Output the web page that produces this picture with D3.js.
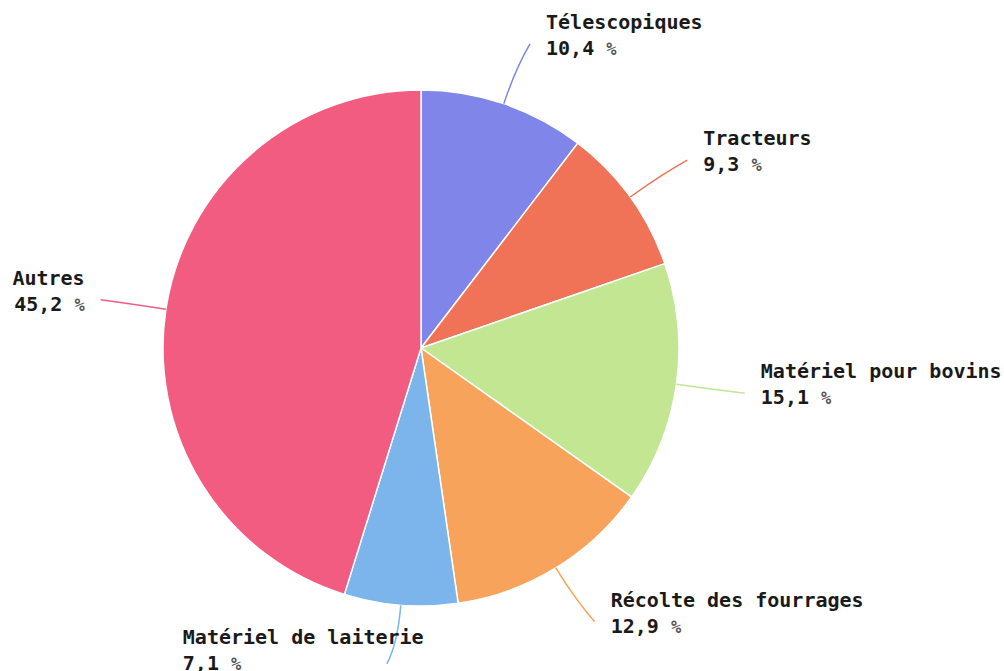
<!DOCTYPE html>
<html>
<head>
<meta charset="utf-8">
<script src="https://cdn.jsdelivr.net/npm/d3@7"></script>
<style>
  html, body { margin: 0; padding: 0; background: #fff; }
  svg { display: block; }
  .lbl { font-family: "DejaVu Sans Mono", monospace; font-weight: bold; font-size: 20px; fill: #1a1a1a; }
  .pct { font-size: 17px; fill: #555; }
</style>
</head>
<body>
<div id="chart"></div>
<script>
// data, clockwise from 12 o'clock
const categories = ["Télescopiques", "Tracteurs", "Matériel pour bovins", "Récolte des fourrages", "Matériel de laiterie", "Autres"];
const values = [10.4, 9.3, 15.1, 12.9, 7.1, 45.2];
const colors = ["#8085e9", "#f07257", "#c2e692", "#f7a35c", "#7cb5ec", "#f15c80"];

const width = 1004, height = 671;
const cx = 421, cy = 348, radius = 258;

const svg = d3.select("#chart").append("svg")
    .attr("width", width)
    .attr("height", height);

const pie = d3.pie().sort(null).value(d => d.v);
const arcs = pie(categories.map((c, i) => ({ c: c, v: values[i], col: colors[i] })));
const arc = d3.arc().innerRadius(0).outerRadius(radius);

const g = svg.append("g").attr("transform", `translate(${cx},${cy})`);

g.selectAll("path.slice")
    .data(arcs)
    .enter().append("path")
    .attr("class", "slice")
    .attr("d", arc)
    .style("fill", d => d.data.col)
    .style("stroke", "#fff")
    .style("stroke-width", 1.5);

// point on a circle for an angle measured clockwise from top
const pt = (a, r) => [Math.sin(a) * r, -Math.cos(a) * r];
const fmt = v => d3.format(".1f")(v).replace(".", ",");

arcs.forEach((d, i) => {
    const mid = (d.startAngle + d.endAngle) / 2;
    const p0 = pt(mid, radius);
    const p1 = pt(mid, 296);
    const p2 = pt(mid, 321);
    const right = p2[0] >= 0;
    const below = !right && Math.abs(p2[0]) < 60;
    // connector bends a little toward its label
    const bend = below ? -9 : (right ? 6 : -3);
    g.append("path")
        .attr("d", `M${p0[0]},${p0[1]} Q${p1[0]},${p1[1]} ${p2[0] + bend},${p2[1] - (below ? 4 : 0)}`)
        .style("fill", "none")
        .style("stroke", d.data.col)
        .style("stroke-width", 1.5);

    let x = right ? p2[0] + 22 : p2[0] - 19;
    let y = p2[1] - 15;
    let anchor = right ? "start" : "end";
    // label under the pie: kept left aligned and lifted so it stays in view
    if (below) { x = p2[0] - 213; y = p2[1] - 24; anchor = "start"; }
    const t = g.append("text")
        .attr("class", "lbl")
        .attr("text-anchor", anchor)
        .attr("x", x)
        .attr("y", y);
    t.append("tspan").text(d.data.c);
    const t2 = t.append("tspan").attr("x", x).attr("dy", 26);
    t2.append("tspan").text(fmt(d.data.v) + " ");
    t2.append("tspan").attr("class", "pct").text("%");
});
</script>
</body>
</html>
